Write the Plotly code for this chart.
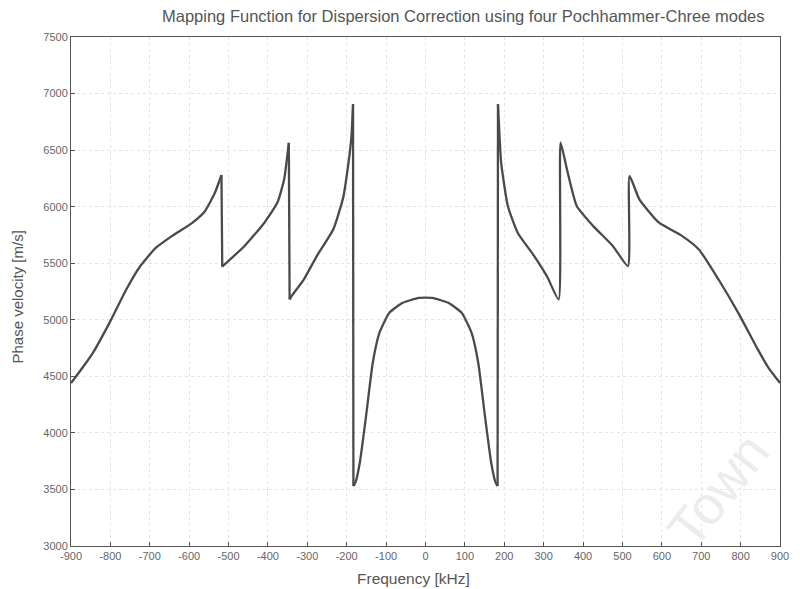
import plotly.graph_objects as go

# Frequency (kHz) and phase velocity (m/s)
freq_khz = [
    -900, -870, -844, -802, -760, -727, -685, -644, -593, -560, -535, -518, -516,
    -510, -460, -409, -376, -359, -347, -345,
    -340, -309, -276, -234, -209, -196, -188, -184, -183,
    -178, -167, -150, -134, -117, -92, -58, -17, 0,
    17, 58, 92, 117, 134, 150, 167, 178,
    183, 184, 188, 192, 209, 234, 276, 309, 338, 343,
    359, 384, 426, 476, 514, 518,
    543, 593, 652, 694, 744, 794, 844, 870, 900,
]
phase_velocity = [
    4440, 4580, 4710, 4975, 5265, 5460, 5635, 5740, 5855, 5960, 6120, 6280, 5470,
    5490, 5650, 5858, 6036, 6240, 6565, 5180,
    5210, 5356, 5563, 5800, 6080, 6375, 6620, 6906, 3530,
    3560, 3732, 4175, 4618, 4884, 5061, 5150, 5194, 5196,
    5194, 5150, 5061, 4884, 4618, 4175, 3732, 3560,
    3530, 6906, 6620, 6390, 6006, 5770, 5563, 5380, 5179, 6567,
    6331, 6006, 5828, 5651, 5474, 6271,
    6065, 5858, 5740, 5622, 5356, 5061, 4736, 4580, 4441,
]

x_ticks = list(range(-900, 901, 100))
y_ticks = list(range(3000, 7501, 500))

FONT = "Liberation Sans, Arial, sans-serif"
LINE = dict(color="#4a4a4a", width=2.3)

fig = go.Figure()

# split the curve into smooth branches at the vertical jumps
start = 0
n = len(freq_khz)
for i in range(n - 1):
    if abs(freq_khz[i + 1] - freq_khz[i]) <= 2:
        fig.add_trace(go.Scatter(x=freq_khz[start:i + 1], y=phase_velocity[start:i + 1],
                                 mode="lines", line=dict(shape="spline", smoothing=0.5, **LINE),
                                 showlegend=False, hoverinfo="skip"))
        fig.add_trace(go.Scatter(x=freq_khz[i:i + 2], y=phase_velocity[i:i + 2],
                                 mode="lines", line=LINE, showlegend=False, hoverinfo="skip"))
        start = i + 1
fig.add_trace(go.Scatter(x=freq_khz[start:], y=phase_velocity[start:],
                         mode="lines", line=dict(shape="spline", smoothing=0.5, **LINE),
                         showlegend=False, hoverinfo="skip"))

axis_common = dict(
    showline=True, linecolor="#555555", linewidth=1, mirror=True,
    ticks="inside", ticklen=4, tickcolor="#555555",
    showgrid=True, gridcolor="#e4e4e4", gridwidth=1, griddash="dot",
    zeroline=False,
    tickfont=dict(family=FONT, size=11, color="#666666"),
)

fig.update_layout(
    width=800, height=589,
    margin=dict(l=71, r=11, t=37, b=43),
    paper_bgcolor="white", plot_bgcolor="white",
    xaxis=dict(range=[-900, 900], tickvals=x_ticks,
               ticktext=[str(t) for t in x_ticks], **axis_common),
    yaxis=dict(range=[3000, 7500], tickvals=y_ticks,
               ticktext=[str(t) for t in y_ticks], **axis_common),
    annotations=[
        dict(text="Mapping Function for Dispersion Correction using four Pochhammer-Chree modes",
             xref="paper", yref="paper", x=(468 - 71) / 718, y=1, yshift=21,
             xanchor="center", yanchor="middle", showarrow=False,
             font=dict(family=FONT, size=16.5, color="#555555")),
        dict(text="Frequency [kHz]", xref="paper", yref="paper",
             x=(418 - 71) / 718, y=0, yshift=-32, xanchor="center", yanchor="middle",
             showarrow=False, font=dict(family=FONT, size=15.5, color="#555555")),
        dict(text="Phase velocity [m/s]", xref="paper", yref="paper",
             x=0, xshift=-53, y=(546 - 298) / 508, xanchor="center", yanchor="middle",
             textangle=-90, showarrow=False, font=dict(family=FONT, size=15, color="#555555")),
        dict(text="Town", xref="paper", yref="paper", x=1.0, y=0.0,
             xanchor="center", yanchor="middle", xshift=-62, yshift=56,
             textangle=-52, showarrow=False,
             font=dict(family=FONT, size=54, color="#ececec")),
    ],
)

fig.write_html("out.html")
